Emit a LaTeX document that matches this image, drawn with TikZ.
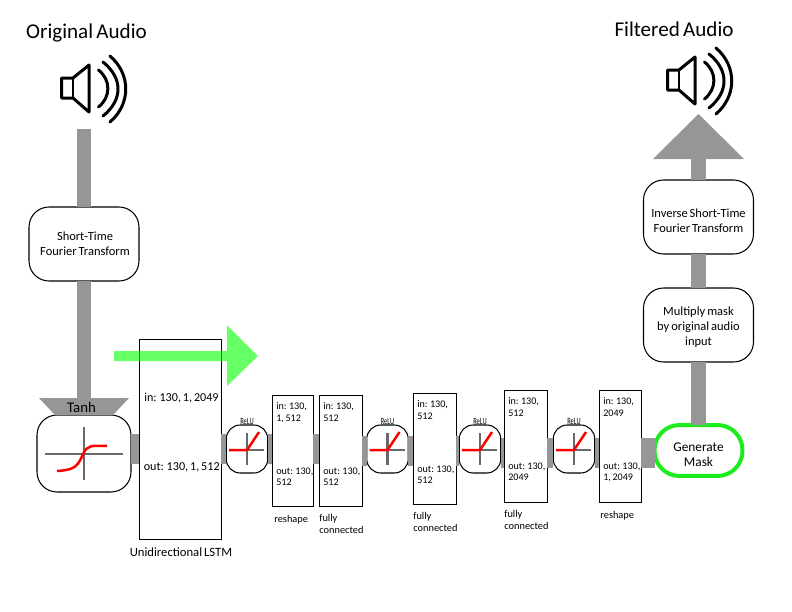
\documentclass[tikz,border=0pt]{standalone}
\usepackage{fontspec}
\setmainfont{Carlito}[WordSpace=0.7]
\usetikzlibrary{calc}
\usetikzlibrary{positioning}
\definecolor{bargray}{RGB}{150,150,150}
\definecolor{axisgray}{RGB}{105,105,105}
\definecolor{maskgreen}{RGB}{30,235,30}
\tikzset{
    bar/.style={draw=bargray,line width=0.3cm},
    widebar/.style={draw=bargray,line width=0.6cm},
    stagebox/.style={draw=black,line width=0.6pt,fill=white,rounded corners=0.4cm,inner sep=0pt,outer sep=0pt,minimum width=2.2cm,minimum height=1.48cm},
    stagetext/.style={inner sep=0pt,align=center,font=\fontsize{7.1}{8.5}\selectfont},
    relubox/.style={draw=black,line width=0.6pt,fill=white,rounded corners=0.28cm,inner sep=0pt,outer sep=0pt,minimum width=0.83cm,minimum height=0.96cm},
    layerbox/.style={draw=black,line width=0.55pt,fill=white,inner sep=0pt,outer sep=0pt},
    layertext/.style={inner sep=0pt,align=left,anchor=north west,font=\fontsize{5.75}{6.5}\selectfont},
    captiontext/.style={inner sep=0pt,align=left,anchor=west,font=\fontsize{5.9}{6.9}\selectfont},
    axisline/.style={draw=axisgray,line width=0.05cm},
    curveline/.style={draw=red,line width=0.05cm},
    speakerline/.style={draw=black,line width=0.06cm,line cap=round,line join=round},
}
\begin{document}
\begin{tikzpicture}[x=0.02cm,y=-0.02cm]
    \newcommand{\U}{0.02cm}
    \useasboundingbox (0,0) rectangle (792,612);
    \node (originaltitle) at (86.5,33) {\fontsize{12}{14}\selectfont Original Audio};
    \node (filteredtitle) at (674,29) {\fontsize{12}{14}\selectfont Filtered Audio};
    % speakers
    \foreach \dx/\dy in {0/0,606/-8}{
        \begin{scope}[shift={(\dx,\dy)}]
            \draw[speakerline,fill=white] (73,78)--(89,65)--(89,112)--(73,98)--(61.5,98)--(61.5,78)--cycle;
            \draw[line width=0.6pt] (73,78)--(73,98);
            \draw[speakerline] (98.5,70) .. controls (111,80) and (111,97) .. (98.5,107);
            \draw[speakerline] (103,62) .. controls (123,78) and (123,100) .. (103,116);
            \draw[speakerline] (110,56) .. controls (131,74) and (131,104) .. (110,122);
        \end{scope}
    }
    \coordinate (speakerin) at (84,129);
    \coordinate (speakerout) at (698.5,159);
    \coordinate (bara) at (0,449);
    \coordinate (barb) at (0,451);
    \coordinate (barc) at (0,452.5);
    % stages
    \node[stagebox] (stft) at (84,244) {};
    \node[stagetext] (stftlabel) at (85,243.5) {Short-Time\\Fourier Transform};
    \node[stagebox,minimum width=1.88cm,minimum height=1.54cm] (tanh) at (84,453.5) {};
    \node[stagebox] (ifft) at (698.5,217) {};
    \node[stagetext] (ifftlabel) at (698.5,220.5) {Inverse Short-Time\\Fourier Transform};
    \node[stagebox] (multiply) at (698.5,325) {};
    \node[stagetext] (multiplylabel) at (698.5,327) {Multiply mask\\by original audio\\input};
    \node[stagebox,draw=maskgreen,line width=0.08cm,rounded corners=0.5cm,minimum width=1.76cm,minimum height=1.02cm] (mask) at (698.5,450.5) {};
    \node[stagetext,font=\fontsize{7.6}{8.5}\selectfont] (masklabel) at (698.5,455) {Generate\\Mask};
    \node[layerbox,minimum width=82*\U,minimum height=200*\U] (lstm) at (180,439) {};
    \node[layertext,anchor=west,font=\fontsize{6.9}{7}\selectfont] (lstmin) at (144,398) {in: 130, 1, 2049};
    \node[layertext,anchor=west,font=\fontsize{6.9}{7}\selectfont] (lstmout) at (143.5,467) {out: 130, 1, 512};
    \node[captiontext,anchor=center,font=\fontsize{7.2}{7}\selectfont] (lstmcaption) at (181,552) {Unidirectional LSTM};
    % layers
    \foreach \name/\cx/\cy/\w/\h/\intext/\outtext in {
        reshapea/292.5/450.5/41/111/{in: 130,\\1, 512}/{out: 130,\\512},
        fca/340.5/450.5/43/111/{in: 130,\\512}/{out: 130,\\512},
        fcb/434.5/448.5/43/111/{in: 130,\\512}/{out: 130,\\512},
        fcc/525.5/446/43/112/{in: 130,\\512}/{out: 130,\\2049},
        reshapeb/620/446/42/112/{in: 130,\\2049}/{out: 130,\\1, 2049}}{
        \node[layerbox,minimum width=\w*\U,minimum height=\h*\U] (\name) at (\cx,\cy) {};
        \node[layertext] (\name in) at ($(\name.north west)+(4,7.5)$) {\intext};
        \node[layertext] (\name out) at ($(\name.north west)+(4,72.5)$) {\outtext};
    }
    \node[captiontext] (reshapeacaption) at (274,520) {reshape};
    \node[captiontext] (fcacaption) at (319,523.5) {fully\\connected};
    \node[captiontext] (fcbcaption) at (413,522) {fully\\connected};
    \node[captiontext] (fcccaption) at (504,519.5) {fully\\connected};
    \node[captiontext] (reshapebcaption) at (600,516) {reshape};
    % relu blocks
    \foreach \name/\x in {relua/247,relub/387.5,reluc/480,relud/574}{
        \node[relubox] (\name) at (\x,449) {};
        \node[inner sep=0pt,font=\fontsize{5.4}{6}\selectfont,above=0pt of \name] (\name label) {\scalebox{0.68}[1]{ReLU}};
    }
    % bars
    \draw[bar] (speakerin) -- (stft.north);
    \draw[bar] (stft.south) -- (tanh.north);
    \draw[widebar] (tanh.east |- bara) -- (lstm.west |- bara);
    \draw[widebar] (lstm.east |- bara) -- (relua.west |- bara);
    \draw[widebar] (relua.east |- bara) -- (reshapea.west |- bara);
    \draw[widebar] (reshapea.east |- bara) -- (fca.west |- bara);
    \draw[widebar] (fca.east |- barb) -- (relub.west |- barb);
    \draw[widebar] (relub.east |- barb) -- (fcb.west |- barb);
    \draw[widebar] (fcb.east |- barb) -- (reluc.west |- barb);
    \draw[widebar] (reluc.east |- barc) -- (fcc.west |- barc);
    \draw[widebar] (fcc.east |- barc) -- (relud.west |- barc);
    \draw[widebar] (relud.east |- barc) -- (reshapeb.west |- barc);
    \draw[widebar] (reshapeb.east |- barc) -- (mask.west |- barc);
    \draw[bar] (mask.north) -- (multiply.south);
    \draw[bar] (multiply.north) -- (ifft.south);
    \draw[bar] (ifft.north) -- (speakerout);
    \fill[bargray] (653,159)--(698.5,114)--(744,159)--cycle;
    % relu curves
    \foreach \x in {247,387.5,480,574}{
        \begin{scope}[shift={(\x,449)}]
            \draw[axisline] (-18,1)--(17,1);
            \draw[axisline] (0,-16)--(0,16);
            \draw[curveline,line join=round] (-18,1)--(0,1)--(12,-17);
        \end{scope}
    }
    % tanh head and curve
    \fill[bargray] (39,398)--(129,398)--(113,415)--(55,415)--cycle;
    \node[inner sep=0pt,font=\fontsize{8.4}{9}\selectfont] (tanhlabel) at (81.5,407) {Tanh};
    \draw[axisline] (45,454)--(123,454);
    \draw[axisline] (84,427)--(84,480);
    \draw[curveline] (57,471) .. controls (75,470) and (78,466) .. (83,454) .. controls (88,444) and (92,446) .. (107,446);
    % green arrow
    \fill[green,opacity=0.6] (114,351)--(227,351)--(227,325)--(258,356)--(227,386)--(227,361)--(114,361)--cycle;
\end{tikzpicture}
\end{document}
